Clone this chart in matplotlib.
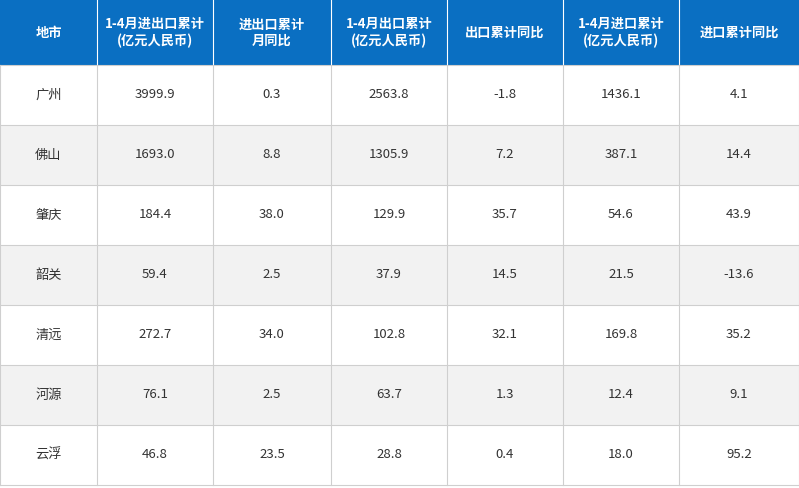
import matplotlib.pyplot as plt
from matplotlib.patches import Rectangle

plt.rcParams['font.family'] = ['Noto Sans CJK SC', 'DejaVu Sans']

headers = ['地市', '1-4月进出口累计\n(亿元人民币)', '进出口累计\n月同比', '1-4月出口累计\n(亿元人民币)',
           '出口累计同比', '1-4月进口累计\n(亿元人民币)', '进口累计同比']
cities = ['广州', '佛山', '肇庆', '韶关', '清远', '河源', '云浮']
total = ['3999.9', '1693.0', '184.4', '59.4', '272.7', '76.1', '46.8']
total_yoy = ['0.3', '8.8', '38.0', '2.5', '34.0', '2.5', '23.5']
export = ['2563.8', '1305.9', '129.9', '37.9', '102.8', '63.7', '28.8']
export_yoy = ['-1.8', '7.2', '35.7', '14.5', '32.1', '1.3', '0.4']
imports = ['1436.1', '387.1', '54.6', '21.5', '169.8', '12.4', '18.0']
import_yoy = ['4.1', '14.4', '43.9', '-13.6', '35.2', '9.1', '95.2']

col_edges = [0, 97, 213, 331, 447, 563, 679, 799]
header_h = 65
row_h = 60

fig = plt.figure(figsize=(7.99, 4.88), dpi=100)
ax = fig.add_axes([0, 0, 1, 1])
ax.set_xlim(0, 799)
ax.set_ylim(488, 0)
ax.axis('off')

# header
ax.add_patch(Rectangle((0, 0), 799, header_h, facecolor='#0a6fc2', edgecolor='none'))
for i, h in enumerate(headers):
    cx = (col_edges[i] + col_edges[i + 1]) / 2
    ax.text(cx, header_h / 2, h, color='white', fontsize=9.5, fontweight='bold',
            ha='center', va='center', linespacing=1.2)
for x in col_edges[1:-1]:
    ax.plot([x, x], [0, header_h], color='white', lw=0.8)

columns = [cities, total, total_yoy, export, export_yoy, imports, import_yoy]
for r in range(len(cities)):
    y0 = header_h + r * row_h
    fc = '#f2f2f2' if r % 2 == 1 else 'white'
    ax.add_patch(Rectangle((0, y0), 799, row_h, facecolor=fc, edgecolor='none'))
    for c, col in enumerate(columns):
        cx = (col_edges[c] + col_edges[c + 1]) / 2
        ax.text(cx, y0 + row_h / 2, col[r], color='#333333', fontsize=9.5,
                ha='center', va='center')

bottom = header_h + len(cities) * row_h
for r in range(len(cities) + 1):
    y = header_h + r * row_h
    ax.plot([0, 799], [y, y], color='#cfcfcf', lw=0.8)
for x in col_edges:
    ax.plot([x, x], [header_h, bottom], color='#cfcfcf', lw=0.8)

fig.savefig('out.png', dpi=100)
